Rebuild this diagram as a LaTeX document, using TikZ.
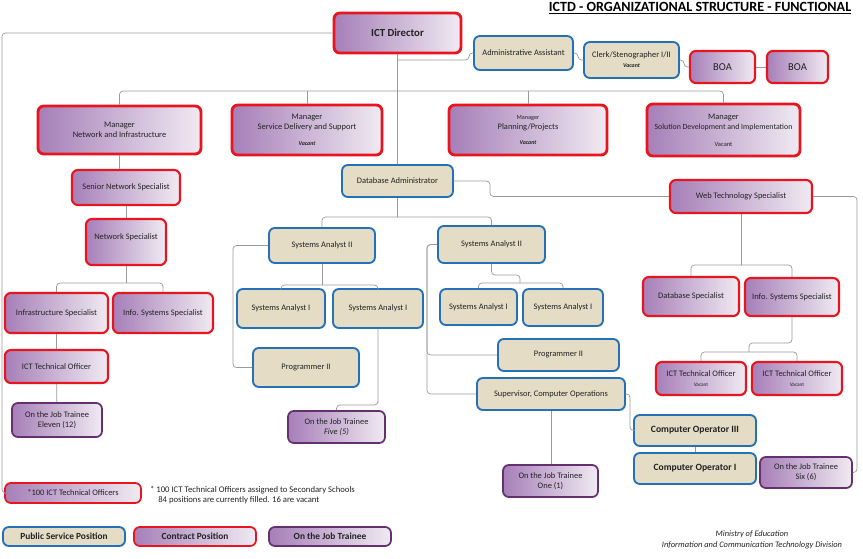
\documentclass[tikz,border=0pt]{standalone}
\usepackage{fontspec}
\setmainfont{Carlito}

\definecolor{redb}{HTML}{E8151F}
\definecolor{blueb}{HTML}{2571B8}
\definecolor{purpb}{HTML}{643070}
\definecolor{pdark}{HTML}{A67FB8}
\definecolor{plight}{HTML}{F0EAF2}
\definecolor{beige}{HTML}{E4DCC5}
\definecolor{linec}{HTML}{999999}
\definecolor{txt}{HTML}{222222}

\newcommand{\nfont}{\fontsize{7.2}{8.5}\selectfont}
\newcommand{\vac}{\fontsize{5}{6}\selectfont\bfseries\itshape}
% 箱: スタイル, 名前, x1, y1, x2, y2, 文字
\newcommand{\obox}[7]{\node[#1, minimum width={(#5-#3)*0.03cm}, minimum height={(#6-#4)*0.03cm}] (#2) at ({(#3+#5)/2},{(#4+#6)/2}) {#7};}

\tikzset{
  orgbox/.style={rounded corners=5pt, align=center, inner sep=1pt, text=txt, font=\nfont},
  contract/.style={orgbox, draw=redb, line width=1.8pt, left color=pdark, right color=plight},
  boss/.style={contract, line width=2.4pt},
  public/.style={orgbox, draw=blueb, line width=1.6pt, fill=beige},
  trainee/.style={orgbox, draw=purpb, line width=1.5pt, left color=pdark, right color=plight},
  conn/.style={draw=linec, line width=0.6pt, rounded corners=3pt},
}

\begin{document}
\begin{tikzpicture}[x=0.03cm, y=-0.03cm]
    \useasboundingbox (0,0) rectangle (863,559);

    % 表題
    \node (title) at (700,8) {\fontsize{12}{14}\selectfont\bfseries\underline{ICTD - ORGANIZATIONAL STRUCTURE - FUNCTIONAL}};

    % 局長と秘書
    \obox{boss}{dir}{334}{13}{461}{53}{\fontsize{9.2}{10}\selectfont\bfseries ICT Director}
    \obox{public}{admin}{474}{36}{573}{70}{Administrative Assistant}
    \obox{public}{clerk}{584}{42}{679}{78}{Clerk/Stenographer I/II\\{\vac Vacant}}
    \obox{contract}{boa1}{690}{51}{755}{83}{\fontsize{9}{10}\selectfont BOA}
    \obox{contract}{boa2}{767}{51}{828}{83}{\fontsize{9}{10}\selectfont BOA}

    % 管理職
    \obox{boss}{m1}{38}{106}{201}{154}{Manager\\Network and Infrastructure}
    \obox{boss}{m2}{232}{105}{382}{155}{Manager\\Service Delivery and Support\\[5pt]{\vac Vacant}}
    \obox{boss}{m3}{449}{105}{607}{155}{\fontsize{5.3}{7}\selectfont Manager\\Planning/Projects\\[5pt]{\vac Vacant}}
    \obox{boss}{m4}{647}{104}{800}{156}{Manager\\{\fontsize{6.7}{8}\selectfont Solution Development and Implementation}\\[6pt]{\fontsize{5.5}{7}\selectfont Vacant}}

    % ネットワーク
    \obox{contract}{sns}{72}{170}{180}{205}{Senior Network Specialist}
    \obox{contract}{ns}{86}{219}{166}{265}{Network Specialist\\ \mbox{}}
    \obox{contract}{infra}{5}{293}{108}{333}{Infrastructure Specialist}
    \obox{contract}{iss1}{113}{293}{213}{333}{Info. Systems Specialist}
    \obox{contract}{tech1}{5}{350}{108}{383}{ICT Technical Officer}
    \obox{trainee}{ojt12}{12}{403}{102}{437}{On the Job Trainee\\Eleven (12)}

    % データベース
    \obox{public}{dba}{342}{165}{453}{197}{Database Administrator}
    \obox{public}{sa2a}{269}{228}{375}{263}{Systems Analyst II}
    \obox{public}{sa2b}{438}{226}{545}{263}{Systems Analyst II}
    \obox{public}{sa1a}{237}{289}{325}{328}{Systems Analyst I}
    \obox{public}{sa1b}{333}{289}{423}{328}{Systems Analyst I}
    \obox{public}{sa1c}{440}{289}{517}{325}{Systems Analyst I}
    \obox{public}{sa1d}{523}{289}{603}{326}{Systems Analyst I}
    \obox{public}{prog1}{253}{348}{359}{387}{Programmer II}
    \obox{public}{prog2}{498}{339}{619}{371}{Programmer II}
    \obox{public}{sup}{477}{378}{625}{410}{Supervisor, Computer Operations}
    \obox{trainee}{ojt5}{288}{411}{385}{443}{On the Job Trainee\\{\itshape Five (5)}}
    \obox{trainee}{ojt1}{503}{465}{598}{497}{On the Job Trainee\\One (1)}
    \obox{public}{co3}{634}{415}{756}{446}{\fontsize{8.2}{9}\selectfont\bfseries Computer Operator III}
    \obox{public}{co1}{634}{453}{756}{484}{\fontsize{8.2}{9}\selectfont\bfseries Computer Operator I}
    \obox{trainee}{ojt6}{760}{457}{852}{488}{On the Job Trainee\\Six (6)}

    % ウェブ
    \obox{contract}{wts}{670}{180}{812}{213}{Web Technology Specialist}
    \obox{contract}{dbs}{643}{277}{739}{316}{Database Specialist}
    \obox{contract}{iss2}{745}{278}{839}{316}{Info. Systems Specialist}
    \obox{contract}{tech2}{656}{362}{746}{395}{ICT Technical Officer\\{\fontsize{4.5}{5.5}\selectfont Vacant}}
    \obox{contract}{tech3}{752}{362}{842}{395}{ICT Technical Officer\\{\fontsize{4.5}{5.5}\selectfont Vacant}}

    % 注記と凡例
    \obox{contract, line width=1.5pt}{tech100}{5}{483}{141}{503}{*100 ICT Technical Officers}
    \node[anchor=west, align=left, font=\fontsize{7.4}{8.8}\selectfont, text=txt] (note) at (146,495) {* 100 ICT Technical Officers assigned to Secondary Schools\\\hspace*{7pt}84 positions are currently filled. 16 are vacant};
    \obox{public}{lps}{3}{527}{125}{546}{\fontsize{8}{9}\selectfont\bfseries Public Service Position}
    \obox{contract, line width=1.5pt}{lcp}{134}{527}{256}{546}{\fontsize{8}{9}\selectfont\bfseries Contract Position}
    \obox{trainee}{lojt}{269}{527}{391}{546}{\fontsize{8}{9}\selectfont\bfseries On the Job Trainee}
    \node[align=center, font=\fontsize{7.2}{9}\selectfont\itshape, text=txt] (moe) at (752,540) {Ministry of Education\\Information and Communication Technology Division};

    % 分岐点
    \coordinate (ledge) at (2,0);
    \coordinate (jadmin) at (397.5,60);
    \coordinate (jadmin2) at (469,60);
    \coordinate (jclerk) at (578,0);
    \coordinate (jboa) at (684,0);
    \coordinate (jmgr) at (397.5,91);
    \coordinate (jnet) at (126,283);
    \coordinate (jdba) at (397.5,217);
    \coordinate (jsa2a) at (322,285);
    \coordinate (lsa) at (233,0);
    \coordinate (j5) at (378,405);
    \coordinate (j2bup) at (520,275);
    \coordinate (j2b) at (520,283);
    \coordinate (rsa) at (427,0);
    \coordinate (jsup) at (630,0);
    \coordinate (jw) at (490,0);
    \coordinate (jr) at (857,0);
    \coordinate (jwts) at (741,265);
    \coordinate (jt1) at (749,343);
    \coordinate (jt2) at (749,352);

    % 線
    \draw[conn] (dir.south) -- (dba.north);
    \draw[conn] (dir.west) -- (dir.west -| ledge) |- (tech100.west);
    \draw[conn] (jadmin) -- (jadmin2) |- (admin.west);
    \draw[conn] (admin.east) -- (admin.east -| jclerk) |- (clerk.west);
    \draw[conn] (clerk.east) -- (clerk.east -| jboa) |- (boa1.west);
    \draw[conn] (boa1) -- (boa2);

    \draw[conn] (m1.north) |- (jmgr) -| (m4.north);
    \draw[conn] (m2.north) -- (m2.north |- jmgr);
    \draw[conn] (m3.north) -- (m3.north |- jmgr);

    \draw[conn] (m1.south) -- (m1.south |- sns.north);
    \draw[conn] (sns) -- (ns);
    \draw[conn] (ns.south) -- (jnet);
    \draw[conn] (infra.north) |- (jnet) -| (iss1.north);
    \draw[conn] (infra) -- (tech1);
    \draw[conn] (tech1) -- (ojt12);

    \draw[conn] (dba.south) -- (jdba);
    \draw[conn] (sa2a.north) |- (jdba) -| (sa2b.north);
    \draw[conn] (sa2a.south) -- (jsa2a);
    \draw[conn] (sa1a.north) |- (jsa2a) -| (sa1b.north);
    \draw[conn] (sa2a.west) -- (sa2a.west -| lsa) |- (prog1.west);
    \draw[conn] (sa1b.south) |- (j5) -| (ojt5.north);
    \draw[conn] (sa2b.south) |- (j2bup) -- (j2b);
    \draw[conn] (sa1c.north) |- (j2b) -| (sa1d.north);
    \draw[conn] (sa2b.west) -- (sa2b.west -| rsa) |- (prog2.west);
    \draw[conn] (sa2b.west) -- (sa2b.west -| rsa) |- (sup.west);
    \draw[conn] (sup.south) -- (sup.south |- ojt1.north);
    \draw[conn] (sup.east) -- (sup.east -| jsup) |- (co3.west);
    \draw[conn] (co3) -- (co1);

    \draw[conn] (dba.east) -- (dba.east -| jw) |- (wts.west);
    \draw[conn] (wts.east) -- (wts.east -| jr) |- (ojt6.east);
    \draw[conn] (wts.south) -- (jwts);
    \draw[conn] (dbs.north) |- (jwts) -| (iss2.north);
    \draw[conn] (iss2.south) |- (jt1) -- (jt2);
    \draw[conn] (tech2.north) |- (jt2) -| (tech3.north);
  \end{tikzpicture}
\end{document}
